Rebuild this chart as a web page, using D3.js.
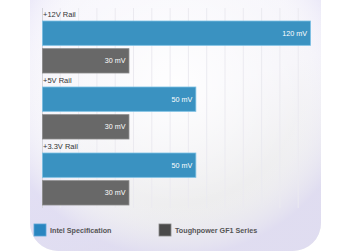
<!DOCTYPE html>
<html>
<head>
<meta charset="utf-8">
<script src="https://cdn.jsdelivr.net/npm/d3@7"></script>
<style>
html,body{margin:0;padding:0;background:#fff;overflow:hidden;}
svg{display:block;font-family:"Liberation Sans",Arial,sans-serif;}
</style>
</head>
<body>
<div id="chart"></div>
<script>
const rails = ['+12V Rail', '+5V Rail', '+3.3V Rail'];
const seriesNames = ['Intel Specification', 'Toughpower GF1 Series'];
const intelSpec = [120, 50, 50];
const gf1 = [30, 30, 30];
const unit = 'mV';

const width = 350, height = 252;
const colors = ['#3a92c1', '#686868'];
const strokes = ['#7cc0e4', '#8a8a8a'];

const root = d3.select('#chart').append('svg')
  .attr('width', width).attr('height', height);

const defs = root.append('defs');
const lg = defs.append('linearGradient').attr('id', 'card')
  .attr('x1', 0).attr('y1', 0).attr('x2', 0.3).attr('y2', 1);
lg.append('stop').attr('offset', '0%').attr('stop-color', '#f8f7fd');
lg.append('stop').attr('offset', '55%').attr('stop-color', '#f5f4f9');
lg.append('stop').attr('offset', '100%').attr('stop-color', '#e8e8e8');
const rg = defs.append('radialGradient').attr('id', 'glow')
  .attr('cx', 0.5).attr('cy', 0.4).attr('r', 0.62);
rg.append('stop').attr('offset', '0%').attr('stop-color', '#ffffff').attr('stop-opacity', 0.9);
rg.append('stop').attr('offset', '70%').attr('stop-color', '#ffffff').attr('stop-opacity', 0.15);
rg.append('stop').attr('offset', '100%').attr('stop-color', '#dcd8f4').attr('stop-opacity', 0.7);

// card
root.append('rect').attr('x', 30).attr('y', -30).attr('width', 291).attr('height', 281)
  .attr('rx', 28).attr('fill', 'url(#card)');
root.append('rect').attr('x', 30).attr('y', -30).attr('width', 291).attr('height', 281)
  .attr('rx', 28).attr('fill', 'url(#glow)');

// scales
const x = d3.scaleLog().domain([15.5, 120]).range([42, 310]);
const y = d3.scaleBand().domain(rails).range([8, 206]);
const sub = d3.scaleBand().domain(seriesNames).range([13, 65]).paddingInner(0.12);

// grid
const grid = d3.scaleLinear().domain([0, 15]).range([42, 316.5]);
root.append('g').selectAll('line').data(d3.range(1, 15)).enter().append('line')
  .attr('x1', d => grid(d)).attr('x2', d => grid(d))
  .attr('y1', 8).attr('y2', 208)
  .attr('stroke', '#ebeaf0').attr('stroke-width', 1);
root.append('line').attr('x1', 42.5).attr('x2', 42.5).attr('y1', 8).attr('y2', 208)
  .attr('stroke', '#d4d4da');

const data = rails.map((r, i) => ({rail: r, vals: [intelSpec[i], gf1[i]]}));

const groups = root.append('g').selectAll('g.rail').data(data).enter()
  .append('g').attr('class', 'rail')
  .attr('transform', d => 'translate(0,' + y(d.rail) + ')');

groups.append('text')
  .attr('x', 43).attr('y', 9)
  .attr('font-size', 7.5).attr('fill', '#333')
  .text(d => d.rail);

groups.each(function(d) {
  const g = d3.select(this);
  d.vals.forEach((v, j) => {
    const by = sub(seriesNames[j]);
    g.append('rect')
      .attr('x', x.range()[0] + 0.5).attr('y', by)
      .attr('width', x(v) - x.range()[0]).attr('height', sub.bandwidth())
      .attr('fill', colors[j]).attr('stroke', strokes[j]).attr('stroke-width', 0.8);
    g.append('text')
      .attr('x', x(v) - 3).attr('y', by + sub.bandwidth() / 2)
      .attr('dy', '0.35em').attr('text-anchor', 'end')
      .attr('font-size', 7.2).attr('fill', '#fff')
      .text(v + ' ' + unit);
  });
});

// legend
const legX = [34, 159];
const leg = root.append('g').selectAll('g.leg').data(seriesNames).enter()
  .append('g').attr('class', 'leg')
  .attr('transform', (d, i) => 'translate(' + legX[i] + ',224)');
leg.append('rect').attr('width', 12).attr('height', 12)
  .attr('fill', (d, i) => i == 0 ? '#2a86c0' : '#4a4a4a')
  .attr('stroke', (d, i) => i == 0 ? '#5aa6d6' : '#888').attr('stroke-width', 0.8);
leg.append('text').attr('x', 16).attr('y', 6).attr('dy', '0.35em')
  .attr('font-size', 7.2).attr('font-weight', 'bold').attr('fill', '#555')
  .text(d => d);
</script>
</body>
</html>
